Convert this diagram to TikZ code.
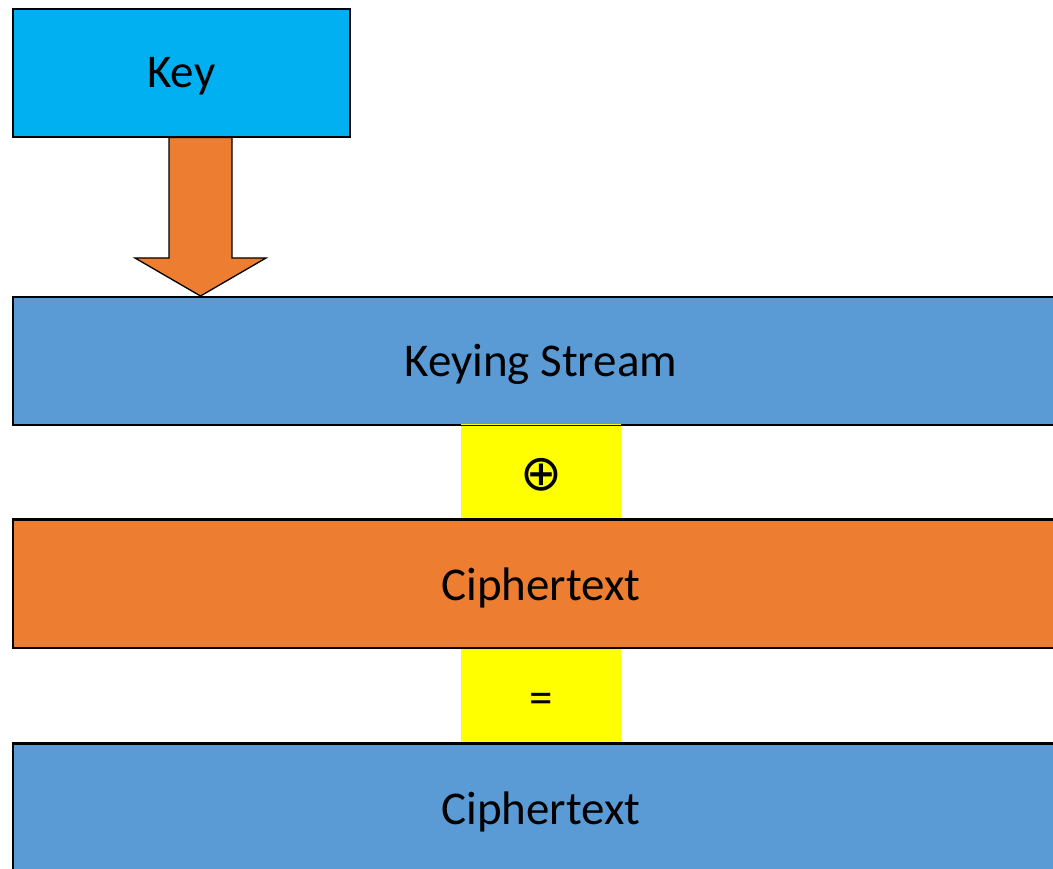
\documentclass[tikz,border=0pt]{standalone}
\usepackage{fontspec}
\setmainfont{Carlito}
\newfontfamily\symbolfont{DejaVu Sans}
\usetikzlibrary{calc}
\definecolor{keyblue}{HTML}{00B0F0}
\definecolor{barblue}{HTML}{5B9BD5}
\definecolor{barorange}{HTML}{ED7D31}
\definecolor{opyellow}{HTML}{FFFF00}
% shift text down without changing the box size used for centring
\newcommand{\lowered}[2]{\raisebox{-#1}[\height][\depth]{#2}}
\begin{document}
\begin{tikzpicture}[x=1pt,y=-1pt,
  box/.style={draw=black,line width=1.6pt,inner sep=0pt,minimum height=128pt,
    font=\fontsize{47}{56}\selectfont},
  bar/.style={box,minimum width=1060pt,anchor=north west},
  opbox/.style={fill=opyellow,inner sep=0pt,minimum width=160pt,minimum height=95pt,anchor=north,
    font=\fontsize{47}{56}\selectfont}]
  \useasboundingbox (0,0) rectangle (1053,869);
  % key and the stream / ciphertext bars
  \node[box,fill=keyblue,minimum width=337pt,anchor=north west] (key) at (12,8) {\lowered{3pt}{Key}};
  \node[bar,fill=barblue] (stream) at (12,296) {\hspace*{-4pt}\lowered{4pt}{Keying Stream}};
  \node[bar,fill=barorange] (cipher1) at (12,519) {\hspace*{-4pt}\lowered{4pt}{Ciphertext}};
  \node[bar,fill=barblue] (cipher2) at (12,743) {\hspace*{-4pt}\lowered{4pt}{Ciphertext}};
  % operator strips between the bars
  \node[opbox] (xor) at (541,424) {\lowered{3pt}{\symbolfont\fontsize{50}{56}\selectfont ⊕}};
  \node[opbox] (eq) at (541,648) {\lowered{8pt}{=}};
  \draw[line width=1.6pt] (stream.south west) -- (stream.south east);
  \draw[line width=1.6pt] (cipher1.north west) -- (cipher1.north east);
  \draw[line width=1.6pt] (cipher1.south west) -- (cipher1.south east);
  \draw[line width=1.6pt] (cipher2.north west) -- (cipher2.north east);
  % block arrow from the key down to the keying stream
  \coordinate (tip) at ($(stream.north west)+(188.5,0)$);
  \coordinate (top) at ($(key.south west)+(188.5,0)$);
  \draw[fill=barorange,line width=1.3pt,line join=miter]
    ($(top)+(-31.5,0)$) -- ($(top)+(31.5,0)$) -- ($(tip)+(31.5,-38)$)
    -- ($(tip)+(65.5,-38)$) -- (tip) -- ($(tip)+(-65.5,-38)$)
    -- ($(tip)+(-31.5,-38)$) -- cycle;
\end{tikzpicture}
\end{document}
